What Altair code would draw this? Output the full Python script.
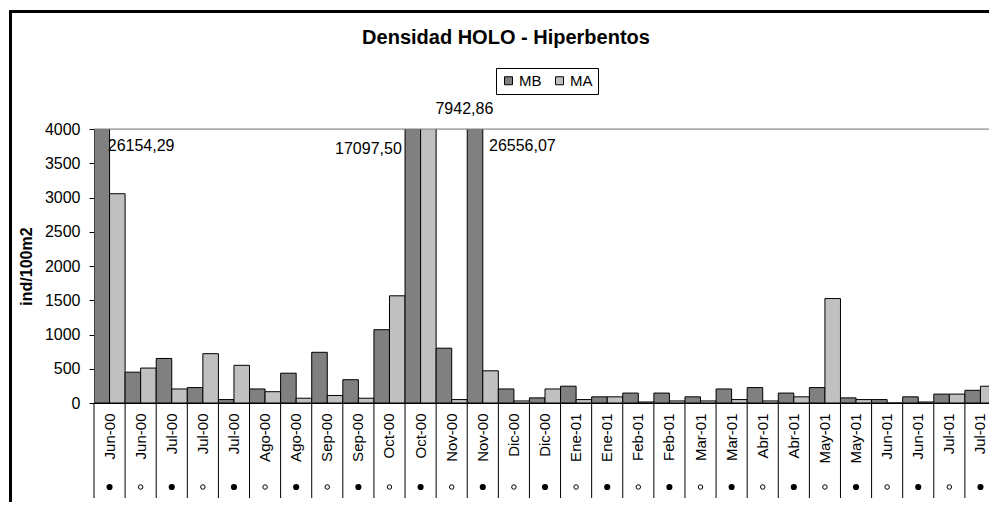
import altair as alt
import pandas as pd

# ---------------- data ----------------
categorias = ["Jun-00", "Jun-00", "Jul-00", "Jul-00", "Jul-00", "Ago-00", "Ago-00",
              "Sep-00", "Sep-00", "Oct-00", "Oct-00", "Nov-00", "Nov-00", "Dic-00",
              "Dic-00", "Ene-01", "Ene-01", "Feb-01", "Feb-01", "Mar-01", "Mar-01",
              "Abr-01", "Abr-01", "May-01", "May-01", "Jun-01", "Jun-01", "Jul-01", "Jul-01"]
marcas = ["●", "○", "●", "○", "●", "○", "●", "○", "●", "○", "●", "○", "●", "○", "●",
          "○", "●", "○", "●", "○", "●", "○", "●", "○", "●", "○", "●", "○", "●"]
MB = [26154.29, 450, 650, 225, 50, 205, 435, 740, 340, 1070, 17097.50, 800, 26556.07,
      205, 75, 245, 90, 145, 145, 90, 205, 225, 145, 225, 75, 50, 90, 130, 185]
MA = [3055, 510, 205, 720, 550, 165, 70, 110, 70, 1565, 7942.86, 50, 470,
      30, 205, 50, 90, 15, 30, 30, 50, 30, 90, 1525, 50, 0, 15, 130, 245]
series = ["MB", "MA"]
colores = ["#808080", "#C0C0C0"]
titulo = "Densidad HOLO - Hiperbentos"
eje_y = "ind/100m2"
ticks_y = [0, 500, 1000, 1500, 2000, 2500, 3000, 3500, 4000]

# ---------------- tables ----------------
rows = []
for i, c in enumerate(categorias):
    rows.append({"idx": i, "cat": c, "serie": "MB", "valor": MB[i]})
    rows.append({"idx": i, "cat": c, "serie": "MA", "valor": MA[i]})
df = pd.DataFrame(rows)
df["texto"] = df["valor"].map(lambda v: f"{v:.2f}".replace(".", ","))
cat_df = pd.DataFrame({"idx": list(range(len(categorias))), "marca": marcas})
one = pd.DataFrame({"t": [titulo]})

W, H = 902, 274
TOTAL_W, TOTAL_H = 981, 494
PAD_L, PAD_T = 86, 121
FONT = "Liberation Sans"

label_expr = "[" + ",".join(f"'{c}'" for c in categorias) + "][datum.value]"

x_axis = alt.Axis(labelExpr=label_expr, labelAngle=270, ticks=False,
                  domainColor="black", domainWidth=1, labelFontSize=15,
                  labelColor="black", labelPadding=10, labelOverlap=False,
                  labelFont=FONT)
x_scale = alt.Scale(paddingInner=0, paddingOuter=0)
x_main = alt.X("idx:O", title=None, scale=x_scale, axis=x_axis)
xoff = alt.XOffset("serie:N", sort=series, scale=alt.Scale(paddingInner=0, paddingOuter=0))

y_axis = alt.Axis(values=ticks_y, format="d", grid=False, title=eje_y,
                  titleFontSize=16, titleFontWeight="bold", titleColor="black",
                  titlePadding=10, titleFont=FONT, labelFont=FONT,
                  labelFontSize=16, labelColor="black", labelPadding=9,
                  labelOverlap=False, labelBound=False,
                  tickSize=5, tickColor="black", domainColor="black")
y_scale = alt.Scale(domain=[0, 4000], nice=False, zero=True)
y_main = alt.Y("valor:Q", title=eje_y, scale=y_scale, axis=y_axis)
y_top = alt.YDatum(4000, title=eje_y, scale=y_scale, axis=y_axis)

color = alt.Color("serie:N", scale=alt.Scale(domain=series, range=colores),
                  legend=alt.Legend(title=None, orient="none", legendX=402, legendY=-61,
                                    direction="horizontal", strokeColor="black",
                                    fillColor="white", padding=5, symbolType="square",
                                    symbolSize=64, symbolStrokeColor="black",
                                    symbolStrokeWidth=1, labelFontSize=15, labelOffset=3,
                                    columnPadding=10, labelColor="black", labelFont=FONT))

bars = alt.Chart(df).mark_bar(stroke="black", strokeWidth=1, clip=True).encode(
    x=x_main, xOffset=xoff, y=y_main, color=color)

top_line = alt.Chart(one).mark_rule(color="#808080", strokeWidth=1).encode(
    y=y_top, x=alt.value(0), x2=alt.value(W + 10))

seps = alt.Chart(cat_df).mark_rule(color="black", strokeWidth=1).encode(
    x=alt.X("idx:O", title=None, scale=x_scale, axis=x_axis, bandPosition=0),
    y=alt.value(H), y2=alt.value(H + 95))

dots_f = alt.Chart(cat_df).transform_filter("datum.marca == '●'").mark_point(
    shape="circle", filled=True, color="black", size=38, opacity=1).encode(
    x=x_main, y=alt.value(H + 84))
dots_o = alt.Chart(cat_df).transform_filter("datum.marca == '○'").mark_point(
    shape="circle", filled=False, color="black", size=20, strokeWidth=1, opacity=1).encode(
    x=x_main, y=alt.value(H + 84))


def etiqueta(i, s, align, dx, dy):
    return alt.Chart(df).transform_filter(
        f"datum.idx == {i} && datum.serie == '{s}'").mark_text(
        align=align, baseline="middle", dx=dx, dy=dy, fontSize=16, font=FONT,
        color="black").encode(x=x_main, xOffset=xoff, y=y_top, text="texto:N")


labels = [
    etiqueta(0, "MB", "left", 6, 17),
    etiqueta(10, "MB", "right", -11, 20),
    etiqueta(10, "MA", "center", 36, -20),
    etiqueta(12, "MB", "left", 14, 17),
]

title_mark = alt.Chart(one).mark_text(fontSize=20, fontWeight="bold", font=FONT,
                                      color="black", align="center",
                                      baseline="alphabetic").encode(
    text="t:N", x=alt.value(412), y=alt.value(-85))

frame_top = alt.Chart(one).mark_rule(color="black", strokeWidth=3).encode(
    x=alt.value(-85), x2=alt.value(W + 20), y=alt.value(-117.5))
frame_left = alt.Chart(one).mark_rule(color="black", strokeWidth=3).encode(
    x=alt.value(-83.5), y=alt.value(-119), y2=alt.value(H + 120))

chart = alt.layer(bars, top_line, seps, dots_f, dots_o, *labels, title_mark,
                  frame_top, frame_left).properties(
    width=W, height=H, autosize="none",
    padding={"left": PAD_L, "top": PAD_T, "right": TOTAL_W - PAD_L - W,
             "bottom": TOTAL_H - PAD_T - H},
    background="white",
).configure_view(stroke=None).configure(font=FONT)

chart.save("out.html", embed_options={"renderer": "svg", "actions": False})
